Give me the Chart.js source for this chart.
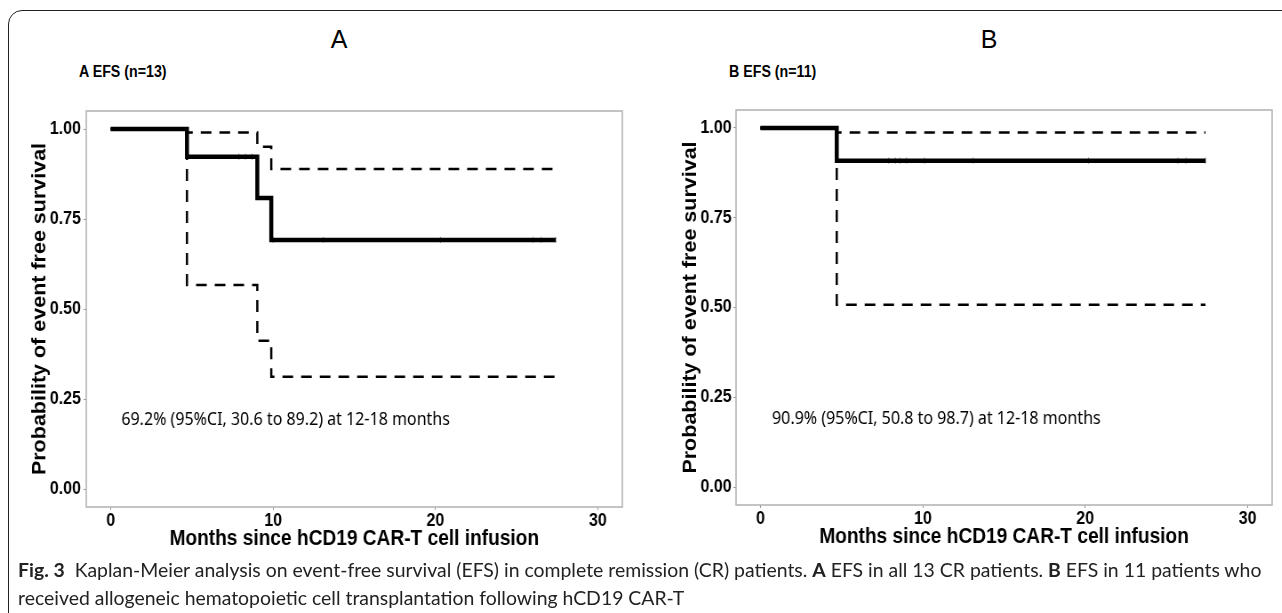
<!DOCTYPE html>
<html>
<head>
<meta charset="utf-8">
<script src="https://cdn.jsdelivr.net/npm/chart.js@4.4.1/dist/chart.umd.min.js"></script>
<style>
body{margin:0;background:#fff;width:1282px;height:613px;overflow:hidden;position:relative;font-family:"Liberation Sans",Arial,sans-serif;color:#000}
#frame{position:absolute;left:8px;top:10px;width:1400px;height:700px;border:1px solid #222;border-radius:14px}
/* the source figure is squeezed sideways a little, so the plots are too */
canvas{position:absolute;top:0;transform:scaleX(0.889);transform-origin:0 0}
.ttl{position:absolute;font-size:25px;transform:translate(-50%,-50%);top:39px}
.sub{position:absolute;font-weight:bold;font-size:16px;transform:translateY(-50%) scaleX(0.889);transform-origin:0 50%;top:72px}
#cap{position:absolute;left:18px;top:556px;font-family:Lato,"Open Sans",sans-serif;font-size:17px;line-height:28px;white-space:nowrap;color:#222}
</style>
</head>
<body>
<div id="frame"></div>
<div class="ttl" style="left:339px">A</div>
<div class="ttl" style="left:989px">B</div>
<div class="sub" style="left:79px">A EFS (n=13)</div>
<div class="sub" style="left:729px">B EFS (n=11)</div>
<canvas id="chartA" width="720" height="560" style="left:0"></canvas>
<canvas id="chartB" width="722" height="560" style="left:640px"></canvas>
<div id="cap"><span id="l1"><b>Fig. 3</b>&nbsp; Kaplan-Meier analysis on event-free survival (EFS) in complete remission (CR) patients. <b>A</b> EFS in all 13 CR patients. <b>B</b> EFS in 11 patients who</span><br>received allogeneic hematopoietic cell transplantation following hCD19 CAR-T</div>
<script>
// axis ticks
const monthTicks=[0,10,20,30];
const probTicks=[0,0.25,0.5,0.75,1];

// panel A: all 13 CR patients
const timesA=[0,4.7,9.03,9.89,27.4];
const survA=[1,0.923,0.808,0.692,0.692];
const upperA=[1,0.99,0.951,0.889,0.889];
const lowerA=[1,0.567,0.412,0.312,0.312];
const censorA=[7.9,8.3,8.7,10.0,13.1,20.3,26.0,26.5,27.4];
const noteA="69.2% (95%CI, 30.6 to 89.2) at 12-18 months";

// panel B: 11 patients with allo-HCT
const timesB=[0,4.7,27.4];
const survB=[1,0.909,0.909];
const upperB=[1,0.987,0.987];
const lowerB=[1,0.508,0.508];
const censorB=[7.9,8.3,8.6,9.0,10.1,13.1,20.2,25.7,26.2,27.4];
const noteB="90.9% (95%CI, 50.8 to 98.7) at 12-18 months";

const F="'Liberation Sans', Arial, sans-serif";

function pts(t,v){return t.map((x,i)=>({x:x,y:v[i]}));}
function levelAt(t,times,surv){let s=surv[0];times.forEach((x,i)=>{if(x<=t)s=surv[i];});return s;}

function panelBox(){
return{id:'panelBox',beforeDatasetsDraw(c){
let a=c.chartArea,ctx=c.ctx;
ctx.save();ctx.strokeStyle='#b0b0b0';ctx.lineWidth=1.5;
ctx.strokeRect(a.left,a.top,a.right-a.left,a.bottom-a.top);ctx.restore();}};
}
function notePlugin(text,nx,ny){
return{id:'note',afterDatasetsDraw(c){
let ctx=c.ctx;
ctx.save();ctx.fillStyle='#000';ctx.font="18px 'Noto Sans', sans-serif";
ctx.textBaseline='middle';ctx.textAlign='left';
ctx.fillText(text,c.scales.x.getPixelForValue(nx),c.scales.y.getPixelForValue(ny));
ctx.restore();}};
}

function km(id,times,surv,upper,lower,censor,note,nx,ny,lay){
new Chart(document.getElementById(id),{
type:'scatter',
data:{datasets:[
{data:pts(times,surv),showLine:true,stepped:'before',borderColor:'#000',borderWidth:4.5,pointRadius:0},
{data:censor.map(t=>({x:t,y:levelAt(t,times,surv)})),showLine:false,pointStyle:'line',rotation:90,pointRadius:3,borderColor:'#777',borderWidth:1},
{data:pts(times,upper),showLine:true,stepped:'before',borderColor:'#000',borderWidth:2.5,borderDash:[12,9],pointRadius:0},
{data:pts(times,lower),showLine:true,stepped:'before',borderColor:'#000',borderWidth:2.5,borderDash:[12,9],pointRadius:0}
]},
options:{
responsive:false,animation:false,devicePixelRatio:1,
layout:{padding:{top:lay.top,right:lay.right,bottom:0,left:0}},
plugins:{legend:{display:false},tooltip:{enabled:false}},
scales:{
x:{type:'linear',min:-1.5,max:31.5,
afterBuildTicks(s){s.ticks=monthTicks.map(v=>({value:v}));},
afterFit(s){s.height=lay.xh;},
border:{display:false},
grid:{drawOnChartArea:false,color:'#999',tickLength:3},
ticks:{color:'#000',padding:0,font:{family:F,size:18,weight:'bold'},callback:v=>v},
title:{display:true,text:'Months since hCD19 CAR-T cell infusion',color:'#000',font:{family:F,size:21.5,weight:'bold'},padding:{top:0,bottom:lay.xpad}}},
y:{type:'linear',min:-0.05,max:1.05,
afterBuildTicks(s){s.ticks=probTicks.map(v=>({value:v}));},
afterFit(s){s.width=lay.yw;},
border:{display:false},
grid:{drawOnChartArea:false,color:'#999',tickLength:3},
ticks:{color:'#000',padding:lay.tpad,font:{family:F,size:18,weight:'bold'},callback:v=>v.toFixed(2)},
title:{display:true,text:'Probability of event free survival',color:'#000',font:{family:F,size:21.5,weight:'bold'},padding:{top:lay.ypad,bottom:0}}}
}
},
plugins:[panelBox(),notePlugin(note,nx,ny)]
});
}

km('chartA',timesA,survA,upperA,lowerA,censorA,noteA,0.66,0.192,{top:111,right:20,xh:53,yw:97,xpad:8,ypad:32,tpad:3});
km('chartB',timesB,survB,upperB,lowerB,censorB,noteB,0.72,0.189,{top:110,right:11,xh:55,yw:108,xpad:10,ypad:44,tpad:2});

// fit caption first line to its width in the figure
let l1=document.getElementById('l1'),cap=document.getElementById('cap');
cap.style.fontSize=(17*1244/l1.getBoundingClientRect().width)+'px';
</script>
</body>
</html>
